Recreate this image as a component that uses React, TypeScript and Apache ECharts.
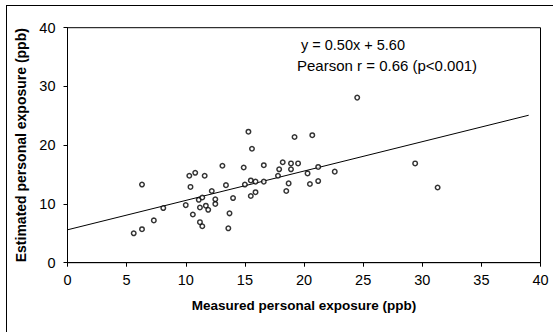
import React, { useEffect, useRef } from "react";
import * as echarts from "echarts";

const measured = [
  6.3, 5.6, 6.3, 7.3, 8.1, 10.0, 10.3, 10.8, 10.4, 11.6,
  10.6, 11.1, 11.4, 11.2, 11.7, 11.9, 11.2, 11.4, 12.2, 12.5,
  12.5, 13.1, 13.4, 14.0, 13.7, 13.6, 14.9, 15.0, 15.3, 15.6,
  16.6, 15.5, 15.9, 16.6, 15.9, 15.5, 18.2, 18.9, 19.5, 17.9,
  18.9, 17.8, 18.7, 18.5, 19.2, 20.7, 20.3, 21.2, 20.5, 21.2,
  22.6, 24.5, 29.4, 31.3,
];
const estimated = [
  13.3, 5.0, 5.7, 7.2, 9.3, 9.8, 14.8, 15.3, 12.9, 14.8,
  8.2, 10.7, 11.1, 9.4, 9.7, 9.0, 6.9, 6.2, 12.2, 10.8,
  10.0, 16.5, 13.2, 11.0, 8.4, 5.85, 16.2, 13.3, 22.3, 19.4,
  16.6, 14.0, 13.8, 13.8, 12.0, 11.35, 17.1, 16.9, 16.9, 15.9,
  15.9, 14.8, 13.5, 12.2, 21.4, 21.7, 15.2, 16.3, 13.4, 13.9,
  15.5, 28.1, 16.9, 12.8,
];
const slope = 0.5;
const intercept = 5.6;
const lineXs = [0, 39];
const xTicks = [0, 5, 10, 15, 20, 25, 30, 35, 40];
const yTicks = [0, 10, 20, 30, 40];
const equationText = "y = 0.50x + 5.60";
const pearsonText = "Pearson r = 0.66 (p<0.001)";
const xTitle = "Measured personal exposure (ppb)";
const yTitle = "Estimated personal exposure (ppb)";

const FONT = "'Liberation Sans', Arial, sans-serif";

export default function App() {
  const ref = useRef<HTMLDivElement>(null);
  useEffect(() => {
    if (!ref.current) return;
    const chart = echarts.init(ref.current, undefined, { renderer: "svg" });
    const points = measured.map((x, i) => [x, estimated[i]]);
    const fitLine = lineXs.map((x) => [x, slope * x + intercept]);
    chart.setOption({
      animation: false,
      backgroundColor: "#fff",
      grid: {
        left: 67.5,
        right: 12.5,
        top: 27.7,
        bottom: 69.3,
        show: true,
        borderColor: "#000",
        borderWidth: 1,
        backgroundColor: "transparent",
      },
      xAxis: {
        type: "value",
        min: xTicks[0],
        max: xTicks[xTicks.length - 1],
        interval: 5,
        name: xTitle,
        nameLocation: "middle",
        nameGap: 36,
        nameTextStyle: { fontFamily: FONT, fontWeight: "bold", fontSize: 13.5, color: "#000" },
        axisLine: { show: true, lineStyle: { color: "#000", width: 1 } },
        axisTick: { show: true, inside: false, length: 4, lineStyle: { color: "#000" } },
        axisLabel: { fontFamily: FONT, fontSize: 14.5, color: "#000", margin: 10 },
        splitLine: { show: false },
      },
      yAxis: {
        type: "value",
        min: yTicks[0],
        max: yTicks[yTicks.length - 1],
        interval: 10,
        name: yTitle,
        nameLocation: "middle",
        nameGap: 37,
        nameTextStyle: { fontFamily: FONT, fontWeight: "bold", fontSize: 14, color: "#000" },
        axisLine: { show: true, lineStyle: { color: "#000", width: 1 } },
        axisTick: { show: true, inside: false, length: 4, lineStyle: { color: "#000" } },
        axisLabel: { fontFamily: FONT, fontSize: 14.5, color: "#000", margin: 12 },
        splitLine: { show: false },
      },
      series: [
        {
          type: "line",
          data: fitLine,
          showSymbol: false,
          symbol: "none",
          lineStyle: { color: "#000", width: 1 },
          silent: true,
          z: 2,
        },
        {
          type: "scatter",
          data: points,
          symbol: "circle",
          symbolSize: 4.5,
          itemStyle: { color: "#fff", borderColor: "#000", borderWidth: 1.5 },
          z: 3,
        },
      ],
      graphic: [
        {
          type: "line",
          shape: { x1: 6, y1: 5.5, x2: 553, y2: 5.5 },
          style: { stroke: "#000", lineWidth: 1 },
        },
        {
          type: "line",
          shape: { x1: 6.5, y1: 5.5, x2: 6.5, y2: 332 },
          style: { stroke: "#000", lineWidth: 1 },
        },
        {
          type: "text",
          left: 301,
          top: 37,
          style: { text: equationText, font: `14.5px ${FONT}`, fill: "#000" },
        },
        {
          type: "text",
          left: 297,
          top: 58,
          style: { text: pearsonText, font: `15px ${FONT}`, fill: "#000" },
        },
      ],
    });
    return () => chart.dispose();
  }, []);
  return <div ref={ref} style={{ width: 553, height: 332, position: "absolute", left: 0, top: 0 }} />;
}
